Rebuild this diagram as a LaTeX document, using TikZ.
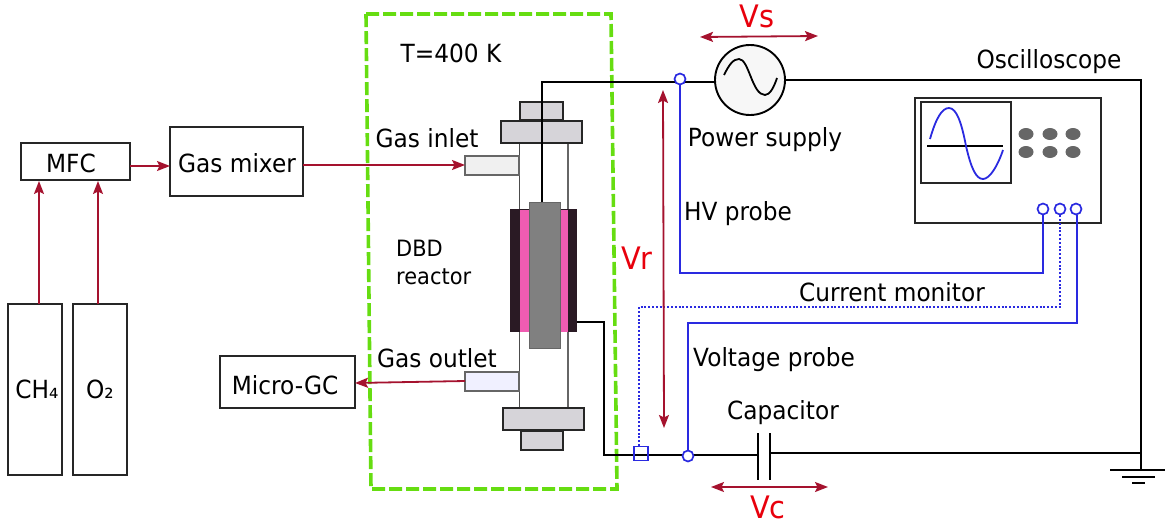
\documentclass[tikz,border=0pt]{standalone}
\usepackage{fontspec}
\setmainfont[FakeStretch=0.93]{DejaVu Sans}
\usetikzlibrary{arrows.meta,calc,shapes.geometric}
\definecolor{arrowred}{HTML}{A5122E}
\definecolor{labelred}{HTML}{E8000C}
\definecolor{probeblue}{HTML}{2A2AE0}
\definecolor{framegreen}{HTML}{66DD11}
\definecolor{partgray}{HTML}{D6D4D9}
\definecolor{darkjacket}{HTML}{2A1A24}
\definecolor{pinkgas}{HTML}{F05CB2}
\newcommand{\rectnode}[6]{%
  \pgfmathsetmacro{\rcx}{(#2+#4)/2}\pgfmathsetmacro{\rcy}{(#3+#5)/2}%
  \pgfmathsetmacro{\rw}{#4-#2}\pgfmathsetmacro{\rh}{#5-#3}%
  \node[#6,minimum width=\rw pt,minimum height=\rh pt] (#1) at (\rcx,\rcy) {};}
\tikzset{
  x=1pt,y=-1pt,
  partbox/.style={draw=black!85,line width=1.8pt,inner sep=0pt,outer sep=0pt,rectangle},
  blockbox/.style={draw=black!85,line width=1.8pt,inner sep=0pt,outer sep=0pt,rectangle,fill=white},
  wire/.style={draw=black,line width=2pt},
  flow/.style={draw=arrowred,line width=1.8pt,-{Stealth[length=13pt,width=10pt,inset=2.5pt]}},
  bothflow/.style={draw=arrowred,line width=1.8pt,{Stealth[length=13pt,width=10pt,inset=2.5pt]}-{Stealth[length=13pt,width=10pt,inset=2.5pt]}},
  probe/.style={draw=probeblue,line width=1.9pt},
  probedot/.style={draw=probeblue,line width=1.9pt,dash pattern=on 2pt off 1.8pt},
  port/.style={circle,draw=probeblue,line width=1.7pt,minimum size=11pt,inner sep=0pt,outer sep=0pt,fill=white},
  knob/.style={ellipse,fill=black!60,minimum width=15pt,minimum height=12pt,inner sep=0pt},
  lab/.style={inner sep=0pt,font=\fontsize{25}{28}\selectfont,anchor=center},
  smalllab/.style={inner sep=0pt,font=\fontsize{22.5}{28}\selectfont,anchor=center},
  volt/.style={inner sep=0pt,text=labelred,font=\fontsize{31}{33}\selectfont,anchor=center},
}
\begin{document}
\begin{tikzpicture}
\useasboundingbox (0,0) rectangle (1165,525);
% reactor frame
\draw[framegreen,line width=3.6pt,dash pattern=on 13pt off 4pt] (366,14) -- (611,14) -- (617,489) -- (371,489) -- cycle;
% blocks
\rectnode{mfc}{21}{143}{130}{180}{blockbox}
\rectnode{mixer}{170}{127}{303}{196}{blockbox}
\rectnode{gc}{220}{356}{355}{408}{blockbox}
\rectnode{chf}{8}{304}{62}{475}{blockbox}
\rectnode{otwo}{73}{304}{127}{475}{blockbox}
\node[lab] at (71,163) {MFC};
\node[lab] at (237,163) {Gas mixer};
\node[lab] at (285,385) {Micro-GC};
\node[lab] at (37,389) {CH₄};
\node[lab] at (100,389) {O₂};
% reactor
\draw[black!70,line width=1.2pt] (519.5,143) -- (519.5,408);
\draw[black!60,line width=1.2pt] (568,143) -- (568,408);
\rectnode{jacket}{510}{209}{577}{332}{fill=darkjacket,inner sep=0pt,outer sep=0pt,rectangle}
\rectnode{plasma}{520}{210}{568}{332}{fill=pinkgas,inner sep=0pt,outer sep=0pt,rectangle}
\rectnode{rod}{529}{202}{560}{348}{fill=black!50,draw=black!60,line width=.8pt,inner sep=0pt,outer sep=0pt,rectangle}
\rectnode{topcap}{520}{102}{563}{120}{partbox,fill=partgray}
\rectnode{topflange}{501}{121}{582}{143}{partbox,fill=partgray}
\rectnode{botflange}{503}{408}{584}{430}{partbox,fill=partgray}
\rectnode{botcap}{521}{431}{563}{450}{partbox,fill=partgray}
\rectnode{inlet}{465}{156}{519}{175}{draw=black!60,line width=1.2pt,fill=black!6,inner sep=0pt,outer sep=0pt,rectangle}
\rectnode{outlet}{465}{372}{519}{391}{draw=black!60,line width=1.2pt,fill=blue!6,inner sep=0pt,outer sep=0pt,rectangle}
% circuit nodes
\node[circle,draw=black,line width=1.9pt,minimum size=70pt,inner sep=0pt,outer sep=0pt,fill=black!3] (src) at (750,80) {};
\draw[black,line width=1.8pt] (724,75) .. controls (729,65) and (733,59) .. (739,59) .. controls (749,59) and (752,95) .. (765,95) .. controls (770,95) and (774,87) .. (777,78);
\coordinate (topleft) at (542,82);
\coordinate (topright) at (1141,80);
\coordinate (gnd) at (1141,470);
\coordinate (rodtop) at (542,202);
\coordinate (jout) at (577,322);
\coordinate (jturn) at (604,322);
\coordinate (jbot) at (604,455);
\coordinate (capl) at (757.5,455);
\coordinate (capr) at (770,453);
\draw[wire] (rodtop) -- (topleft) -- (src.west |- topleft);
\draw[wire] (src.east) -- (topright) -- (gnd);
\draw[wire] (jout) -- (jturn) -- (jbot) -- (capl);
\draw[wire] (capr) -- (1141,453);
\draw[wire] (757.5,433) -- (757.5,480);
\draw[wire] (770,433) -- (770,480);
\draw[wire] (1110,470) -- (1165,470);
\draw[wire] (1122,477) -- (1155,477);
\draw[wire] (1132,483) -- (1145,483);
% oscilloscope
\rectnode{scope}{915}{98}{1101}{223}{partbox}
\rectnode{screen}{921}{102}{1011}{183}{partbox}
\draw[black,line width=1.8pt] (927,146) -- (1003,146);
\draw[probeblue,line width=1.8pt] (930,139) .. controls (936,118) and (942,108) .. (949,108) .. controls (957,108) and (962,125) .. (966,146) .. controls (971,168) and (976,179) .. (983,179) .. controls (990,179) and (998,165) .. (1003,150);
\foreach \kx in {1026,1050,1073}{\foreach \ky in {134,152}{\node[knob] at (\kx,\ky) {};}}
% probes
\node[port] (pa) at (680,79) {};
\node[port] (pb) at (1043,209) {};
\node[port] (pc) at (1060,209) {};
\node[port] (pd) at (1076,209) {};
\node[port] (pe) at (688,456) {};
\node[rectangle,draw=probeblue,line width=1.6pt,minimum size=14pt,inner sep=0pt,outer sep=0pt] (ps) at (641,453.5) {};
\draw[probe] (pa) -- (680,273) -- (1043,273) -- (pb);
\draw[probedot] (639,446) -- (639,307) -- (1060,307) -- (pc);
\draw[probe] (pe) -- (688,323) -- (1077,323) -- (1077,214.5);
% flow arrows
\draw[flow] (chf.north -| 39,0) -- (39,181);
\draw[flow] (otwo.north -| 98,0) -- (98,181);
\draw[flow] (mfc.east |- 0,166) -- (mixer.west |- 0,166);
\draw[flow] (mixer.east |- 0,165) -- (inlet.west |- 0,165);
\draw[flow] (outlet.west |- 0,381) -- (gc.east |- 0,383);
\draw[bothflow] (700,37) -- (818,36);
\draw[bothflow] (663,90) -- (664,428);
\draw[bothflow] (711,487) -- (828,487);
% labels
\node[volt] at (757,16) {Vs};
\node[volt] at (637,258) {Vr};
\node[volt] at (768,507) {Vc};
\node[lab] at (451,53) {T=400 K};
\node[lab] at (427,138) {Gas inlet};
\node[lab] at (437,358) {Gas outlet};
\node[smalllab,align=left,anchor=west] at (396,262) {DBD\\reactor};
\node[lab] at (1049,62) {Oscilloscope};
\node[lab] at (765,140) {Power supply};
\node[lab] at (738,214) {HV probe};
\node[lab] at (892,292) {Current monitor};
\node[lab] at (774,360) {Voltage probe};
\node[lab] at (783,413) {Capacitor};
\end{tikzpicture}
\end{document}
